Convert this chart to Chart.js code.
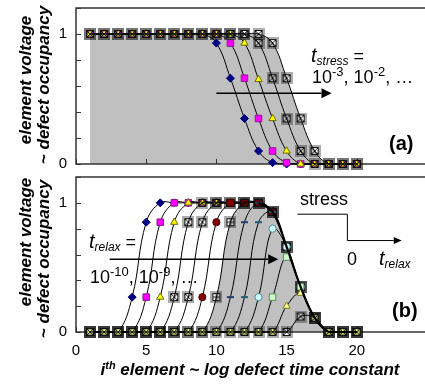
<!DOCTYPE html>
<html>
<head>
<meta charset="utf-8">
<script src="https://cdn.jsdelivr.net/npm/chart.js@4.4.1/dist/chart.umd.min.js"></script>
<style>
  html, body { margin: 0; padding: 0; background: #fff; overflow: hidden; width: 425px; height: 384px; }
  #wrap { position: relative; width: 425px; height: 384px; overflow: hidden;
          font-family: "Liberation Sans", Arial, sans-serif; color: #000; }
  canvas { position: absolute; left: 0; }
  #ca { top: 0; }
  #cb { top: 170px; }
  .t { position: absolute; white-space: nowrap; line-height: 1; }
  .it { font-style: italic; }
  .sub { position: relative; top: 3px; font-size: 12px; font-style: italic; }
  .sup { position: relative; top: -7px; font-size: 13px; }
  .ytitle { position: absolute; white-space: nowrap; font-weight: bold; font-style: italic;
            font-size: 17px; line-height: 1; transform: translate(-50%, -50%) rotate(-90deg); }
</style>
</head>
<body>
<div id="wrap">
  <canvas id="ca" width="434" height="172"></canvas>
  <canvas id="cb" width="434" height="214"></canvas>

  <!-- panel (a) labels -->
  <div class="t it" style="left:311px;top:45px;font-size:20px;">t<span class="sub">stress</span><span style="font-style:normal;font-size:18px;"> =</span></div>
  <div class="t" style="left:312px;top:68px;font-size:18px;">10<span class="sup">-3</span>, 10<span class="sup">-2</span>, …</div>
  <div class="t" style="left:389px;top:133px;font-size:20px;font-weight:bold;">(a)</div>

  <!-- panel (b) labels -->
  <div class="t it" style="left:89px;top:231px;font-size:20px;">t<span class="sub">relax</span><span style="font-style:normal;font-size:18px;"> =</span></div>
  <div class="t" style="left:90px;top:268px;font-size:18px;">10<span class="sup">-10</span>, 10<span class="sup">-9</span>, …</div>
  <div class="t" style="left:300px;top:190px;font-size:18px;">stress</div>
  <div class="t" style="left:347px;top:250px;font-size:18px;">0</div>
  <div class="t it" style="left:379px;top:248px;font-size:20px;">t<span class="sub">relax</span></div>
  <div class="t" style="left:392px;top:300px;font-size:20px;font-weight:bold;">(b)</div>

  <!-- axis titles -->
  <div class="ytitle" style="left:25px;top:80px;">element voltage</div>
  <div class="ytitle" style="left:43px;top:85px;">~ defect occupancy</div>
  <div class="ytitle" style="left:25px;top:242px;">element voltage</div>
  <div class="ytitle" style="left:43px;top:259px;">~ defect occupancy</div>
  <div class="t" style="left:250px;top:361px;transform:translateX(-50%);font-size:17px;font-weight:bold;font-style:italic;">i<span style="position:relative;top:-6px;font-size:11px;">th</span> element ~ log defect time constant</div>
</div>

<script>
// element index i (log of the defect time constant)
const elements = [1, 2, 3, 4, 5, 6, 7, 8, 9, 10, 11, 12, 13, 14, 15, 16, 17, 18, 19, 20];

// (a) element voltage after stress, one curve per stress time 10^-3, 10^-2, ...
const stress1 = [1, 1, 1, 1, 1, 1, 1, 1, 1, 0.93, 0.66, 0.35, 0.10, 0.01, 0, 0, 0, 0, 0, 0];
const stress2 = [1, 1, 1, 1, 1, 1, 1, 1, 1, 1, 0.93, 0.66, 0.35, 0.10, 0.01, 0, 0, 0, 0, 0];
const stress3 = [1, 1, 1, 1, 1, 1, 1, 1, 1, 1, 1, 0.93, 0.65, 0.35, 0.10, 0, 0, 0, 0, 0];
const stress4 = [1, 1, 1, 1, 1, 1, 1, 1, 1, 1, 1, 1, 0.93, 0.66, 0.35, 0.10, 0, 0, 0, 0];
const stress5 = [1, 1, 1, 1, 1, 1, 1, 1, 1, 1, 1, 1, 1, 0.93, 0.66, 0.35, 0.10, 0, 0, 0];

// (b) element voltage after relaxation, one curve per relax time 10^-10, 10^-9, ...
const relax1  = [0, 0, 0, 0.27, 0.85, 1, 1, 1, 1, 1, 1, 1, 1, 0.93, 0.66, 0.35, 0.11, 0, 0, 0];
const relax2  = [0, 0, 0, 0, 0.27, 0.85, 1, 1, 1, 1, 1, 1, 1, 0.93, 0.66, 0.35, 0.11, 0, 0, 0];
const relax3  = [0, 0, 0, 0, 0, 0.27, 0.85, 1, 1, 1, 1, 1, 1, 0.93, 0.66, 0.35, 0.11, 0, 0, 0];
const relax4  = [0, 0, 0, 0, 0, 0, 0.27, 0.85, 1, 1, 1, 1, 1, 0.93, 0.66, 0.35, 0.11, 0, 0, 0];
const relax5  = [0, 0, 0, 0, 0, 0, 0, 0.27, 0.85, 1, 1, 1, 1, 0.93, 0.66, 0.35, 0.11, 0, 0, 0];
const relax6  = [0, 0, 0, 0, 0, 0, 0, 0, 0.27, 0.85, 1, 1, 1, 0.93, 0.66, 0.35, 0.11, 0, 0, 0];
const relax7  = [0, 0, 0, 0, 0, 0, 0, 0, 0, 0.27, 0.85, 1, 1, 0.93, 0.66, 0.35, 0.11, 0, 0, 0];
const relax8  = [0, 0, 0, 0, 0, 0, 0, 0, 0, 0, 0.27, 0.85, 1, 0.93, 0.66, 0.35, 0.11, 0, 0, 0];
const relax9  = [0, 0, 0, 0, 0, 0, 0, 0, 0, 0, 0, 0.27, 0.85, 0.93, 0.66, 0.35, 0.11, 0, 0, 0];
const relax10 = [0, 0, 0, 0, 0, 0, 0, 0, 0, 0, 0, 0, 0.27, 0.80, 0.66, 0.35, 0.11, 0, 0, 0];
const relax11 = [0, 0, 0, 0, 0, 0, 0, 0, 0, 0, 0, 0, 0, 0.27, 0.58, 0.35, 0.11, 0, 0, 0];
const relax12 = [0, 0, 0, 0, 0, 0, 0, 0, 0, 0, 0, 0, 0, 0, 0.20, 0.30, 0.11, 0, 0, 0];
const relax13 = [0, 0, 0, 0, 0, 0, 0, 0, 0, 0, 0, 0, 0, 0, 0, 0.12, 0.11, 0, 0, 0];
// state at the end of the stress phase
const stressEnd = [null, null, null, null, null, null, null, null, null, null, null, null, 1, 0.93, 0.66, 0.35, 0.11, 0, 0, 0];

const xTicks = [0, 5, 10, 15, 20];
const yLabelled = [0, 1];

// arrows and the little stress / t_relax sketch, in axis units
const stressArrow = [[10, 0.544], [18.2, 0.544]];
const relaxArrow = [[2.4, 0.564], [14.4, 0.564]];
const stepSketch = [[15.77, 0.912], [19.33, 0.912], [19.33, 0.708], [23.2, 0.708]];

const pts = arr => elements.map((x, i) => ({ x, y: arr[i] }));

function boxMarker(kind) {
  const c = document.createElement('canvas');
  c.width = 12; c.height = 12;
  const g = c.getContext('2d');
  g.strokeStyle = 'rgba(0,0,0,0.32)'; g.lineWidth = 2;
  g.strokeRect(1, 1, 10, 10);
  g.strokeStyle = '#111'; g.lineWidth = 1;
  g.strokeRect(2.5, 2.5, 7, 7);
  g.beginPath();
  if (kind === 'x') { g.moveTo(3, 3); g.lineTo(9, 9); g.moveTo(9, 3); g.lineTo(3, 9); }
  else { g.moveTo(6, 3); g.lineTo(6, 9); g.moveTo(3, 6); g.lineTo(9, 6); }
  g.stroke();
  return c;
}
const crossBox = boxMarker('x');
const plusBox = boxMarker('+');

const markers = {
  diamond: { pointStyle: 'rectRot', pointRadius: 4, pointBackgroundColor: '#000080', pointBorderColor: '#000080', pointBorderWidth: 1 },
  square:  { pointStyle: 'rect', pointRadius: 4.6, pointBackgroundColor: '#ff00ff', pointBorderColor: '#8a1a8a', pointBorderWidth: 1 },
  tri:     { pointStyle: 'triangle', pointRadius: 4.2, pointBackgroundColor: '#ffff00', pointBorderColor: '#6b6b00', pointBorderWidth: 1 },
  cross:   { pointStyle: crossBox, pointRadius: 6 },
  plus:    { pointStyle: plusBox, pointRadius: 6 },
  circle:  { pointStyle: 'circle', pointRadius: 3.6, pointBackgroundColor: '#800000', pointBorderColor: '#600000', pointBorderWidth: 1 },
  dash1:   { pointStyle: 'line', pointRadius: 3.5, pointBorderColor: '#1f3f6f', pointBorderWidth: 2 },
  dash2:   { pointStyle: 'line', pointRadius: 3.5, pointBorderColor: '#1f5f6f', pointBorderWidth: 2 },
  circle2: { pointStyle: 'circle', pointRadius: 3.6, pointBackgroundColor: '#ccffff', pointBorderColor: '#4f8a94', pointBorderWidth: 1 },
  square2: { pointStyle: 'rect', pointRadius: 4.6, pointBackgroundColor: '#ccffcc', pointBorderColor: '#5a8a5a', pointBorderWidth: 1 },
  tri2:    { pointStyle: 'triangle', pointRadius: 4.2, pointBackgroundColor: '#ffff99', pointBorderColor: '#7a7a20', pointBorderWidth: 1 }
};

function series(arr, marker, idx, extra) {
  return Object.assign({
    data: pts(arr),
    borderColor: '#000',
    borderWidth: 1,
    tension: 0.4,
    fill: false,
    clip: false,
    order: -idx
  }, markers[marker], extra || {});
}

// frame, inward tick marks and arrows
const decor = {
  id: 'decor',
  beforeDatasetsDraw(chart) {
    const { ctx, chartArea: a, scales } = chart;
    ctx.save();
    ctx.strokeStyle = '#333';
    ctx.lineWidth = 1.5;
    ctx.strokeRect(a.left, a.top, a.right - a.left, a.bottom - a.top);
    ctx.lineWidth = 1;
    ctx.beginPath();
    scales.y.ticks.forEach(t => {
      const y = Math.round(scales.y.getPixelForValue(t.value)) + 0.5;
      ctx.moveTo(a.left, y); ctx.lineTo(a.left + 5, y);
    });
    xTicks.forEach(v => {
      const x = Math.round(scales.x.getPixelForValue(v)) + 0.5;
      ctx.moveTo(x, a.bottom); ctx.lineTo(x, a.bottom - 5);
    });
    ctx.stroke();
    ctx.restore();
  },
  afterDatasetsDraw(chart, args, opts) {
    const { ctx, scales } = chart;
    (opts.arrows || []).forEach(ar => {
      const p = ar.path.map(q => [scales.x.getPixelForValue(q[0]), scales.y.getPixelForValue(q[1])]);
      const n = p.length;
      const tip = p[n - 1], prev = p[n - 2];
      const dir = Math.sign(tip[0] - prev[0]) || 1;
      ctx.save();
      ctx.strokeStyle = '#000'; ctx.fillStyle = '#000';
      ctx.lineWidth = ar.width;
      ctx.beginPath();
      p.forEach((q, i) => {
        const x = (i === n - 1) ? q[0] - dir * ar.head : q[0];
        if (i === 0) ctx.moveTo(x, q[1]); else ctx.lineTo(x, q[1]);
      });
      ctx.stroke();
      ctx.beginPath();
      ctx.moveTo(tip[0], tip[1]);
      ctx.lineTo(tip[0] - dir * ar.head, tip[1] - ar.half);
      ctx.lineTo(tip[0] - dir * ar.head, tip[1] + ar.half);
      ctx.closePath();
      ctx.fill();
      ctx.restore();
    });
  }
};

const tickFont = { family: '"Liberation Sans", Arial, sans-serif', size: 15 };

function noPad(s) { s.paddingTop = 0; s.paddingBottom = 0; s.paddingLeft = 0; s.paddingRight = 0; }

function makeOptions(showX, topPad, xHeight, arrows) {
  return {
    responsive: false,
    animation: false,
    events: [],
    layout: { padding: { top: topPad, left: 0, right: 0, bottom: 0 } },
    plugins: {
      legend: { display: false },
      tooltip: { enabled: false },
      filler: { drawTime: 'beforeDatasetsDraw' },
      decor: { arrows }
    },
    scales: {
      x: {
        type: 'linear', min: 0, max: 25,
        grid: { display: false, drawTicks: false },
        border: { display: false },
        ticks: {
          display: showX, stepSize: 5, padding: 10, color: '#000', font: tickFont,
          callback: v => xTicks.includes(v) ? String(v) : ''
        },
        afterFit: s => { s.height = xHeight; noPad(s); }
      },
      y: {
        min: 0, max: 1.2,
        grid: { display: false, drawTicks: false },
        border: { display: false },
        ticks: {
          stepSize: 0.2, padding: 9, color: '#000', font: tickFont,
          callback: v => { const m = yLabelled.find(l => Math.abs(l - v) < 1e-6); return m === undefined ? '' : String(m); }
        },
        afterFit: s => { s.width = 76; noPad(s); }
      }
    }
  };
}

new Chart(document.getElementById('ca'), {
  type: 'line',
  data: {
    datasets: [
      series(stress1, 'diamond', 0),
      series(stress2, 'square', 1),
      series(stress3, 'tri', 2),
      series(stress4, 'cross', 3),
      series(stress5, 'cross', 4, { fill: 'origin', backgroundColor: '#c0c0c0' })
    ]
  },
  options: makeOptions(false, 8, 8, [
    { path: stressArrow, width: 1.5, head: 10, half: 5 }
  ]),
  plugins: [decor]
});

new Chart(document.getElementById('cb'), {
  type: 'line',
  data: {
    datasets: [
      series(relax1, 'diamond', 0),
      series(relax2, 'square', 1),
      series(relax3, 'tri', 2),
      series(relax4, 'cross', 3),
      series(relax5, 'cross', 4),
      series(relax6, 'circle', 5),
      series(relax7, 'plus', 6, { fill: 'origin', backgroundColor: '#c0c0c0' }),
      series(relax8, 'dash1', 7),
      series(relax9, 'dash2', 8),
      series(relax10, 'circle2', 9),
      series(relax11, 'square2', 10),
      series(relax12, 'tri2', 11),
      series(relax13, 'cross', 12),
      {
        data: pts(stressEnd), borderColor: '#000', borderWidth: 2.2, tension: 0.4,
        pointRadius: 0, fill: false, clip: false, order: -100
      }
    ]
  },
  options: makeOptions(true, 7, 52, [
    { path: relaxArrow, width: 1.5, head: 10, half: 5 },
    { path: stepSketch, width: 1, head: 8, half: 3.5 }
  ]),
  plugins: [decor]
});
</script>
</body>
</html>
